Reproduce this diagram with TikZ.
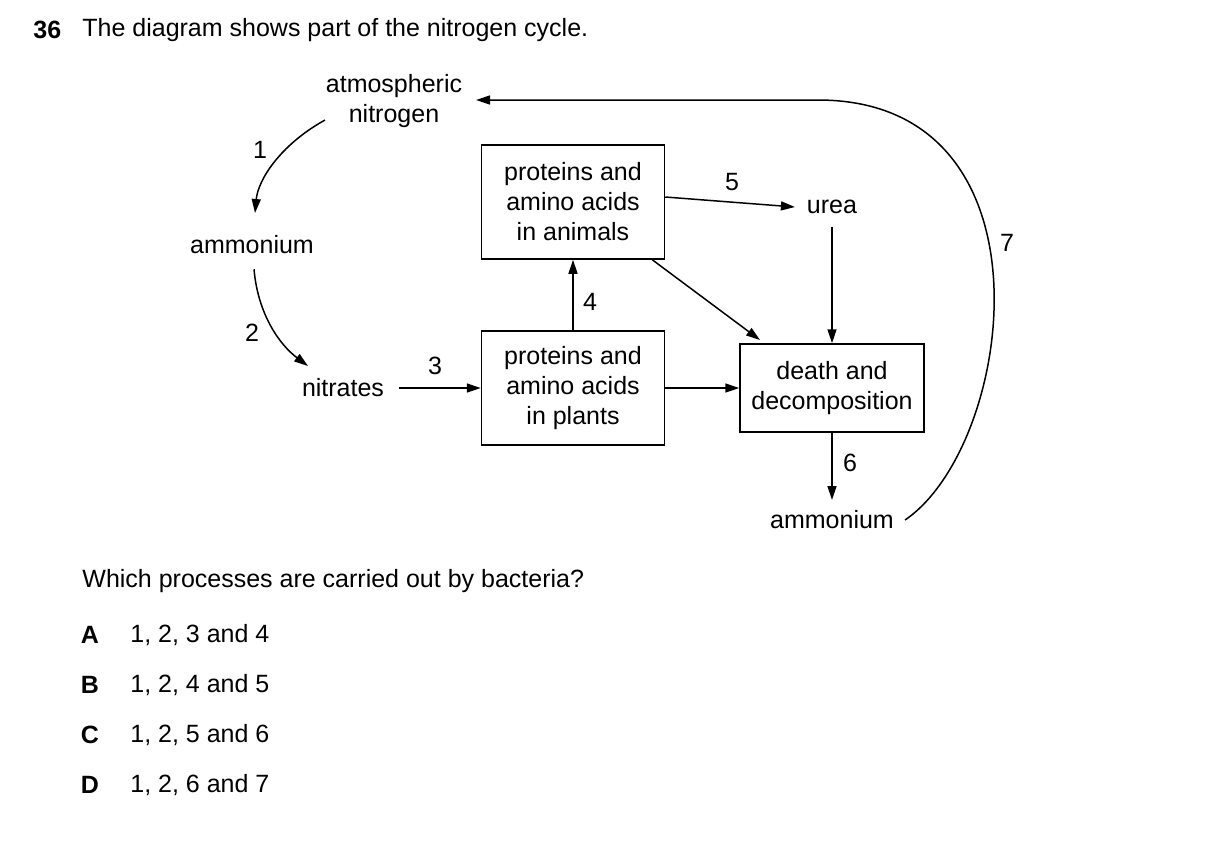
\documentclass[tikz,border=0pt]{standalone}
\usepackage{fontspec}
\setmainfont{Liberation Sans}
\usetikzlibrary{arrows.meta,calc}
\tikzset{
	box/.style={draw, line width=0.75pt, minimum width=91.5pt, minimum height=57pt, align=center, inner sep=2pt},
	lbl/.style={align=center},
	flow/.style={line width=0.75pt, -{Triangle[length=7pt, width=4.5pt]}}
}
\begin{document}
\begin{tikzpicture}[x=0.5pt, y=-0.5pt, font=\fontsize{12.5}{15}\selectfont]
	\useasboundingbox (0,0) rectangle (1209,848);

	\node[anchor=west, inner sep=0pt, font=\fontsize{12.5}{15}\selectfont\bfseries] (num) at (33, 30) {36};
	\node[anchor=west, inner sep=0pt] (title) at (82, 30) {The diagram shows part of the nitrogen cycle.};

	\node[lbl] (atm) at (394, 101) {atmospheric\\nitrogen};
	\node[lbl] (amm1) at (252, 245) {ammonium};
	\node[lbl] (nit) at (343, 388) {nitrates};
	\node[box] (anim) at (573, 202) {proteins and\\amino acids\\in animals};
	\node[box] (plant) at (573, 388) {proteins and\\amino acids\\in plants};
	\node[lbl] (urea) at (832, 207) {urea};
	\node[box, minimum width=92pt, minimum height=44pt] (death) at (832, 388) {death and\\decomposition};
	\node[lbl] (amm2) at (832, 520) {ammonium};

	\coordinate (c1) at (325, 120);
	\coordinate (c7) at (905, 520);

	\draw[flow] (c1) .. controls (280, 145) and (258, 180) .. (255, 213);
	\draw[flow] (amm1.south) ++(2, 8) .. controls (258, 315) and (280, 345) .. (308, 366);
	\draw[flow] (nit.east) ++(8, 0) -- (plant.west);
	\draw[flow] (plant.north) -- (anim.south);
	\draw[flow] (anim.east) ++(0, -5) -- ($(urea.west)+(-5,0)$);
	\draw[flow] (urea.south) ++(0, 6) -- (death.north);
	\draw[flow] (anim.south east) ++(-13, 0) -- (760, 340);
	\draw[flow] (plant.east) -- (death.west);
	\draw[flow] (death.south) -- (832, 500);
	\draw[flow] (c7) .. controls (1015, 445) and (1060, 102) .. (820, 100) -- (476, 100);

	\node (n1) at (260, 150) {1};
	\node (n2) at (252, 333) {2};
	\node (n3) at (435, 366) {3};
	\node (n4) at (590, 302) {4};
	\node (n5) at (732, 182) {5};
	\node (n6) at (850, 463) {6};
	\node (n7) at (1007, 243) {7};

	\node[anchor=west, inner sep=0pt] (quest) at (82, 581) {Which processes are carried out by bacteria?};
	\foreach \k/\t/\yy in {A/{1, 2, 3 and 4}/635, B/{1, 2, 4 and 5}/685, C/{1, 2, 5 and 6}/735, D/{1, 2, 6 and 7}/785} {
		\node[font=\fontsize{12.5}{15}\selectfont\bfseries] (opt\k) at (90, \yy) {\k};
		\node[anchor=west, inner sep=0pt] (ans\k) at (130, \yy) {\t};
	}
\end{tikzpicture}
\end{document}
